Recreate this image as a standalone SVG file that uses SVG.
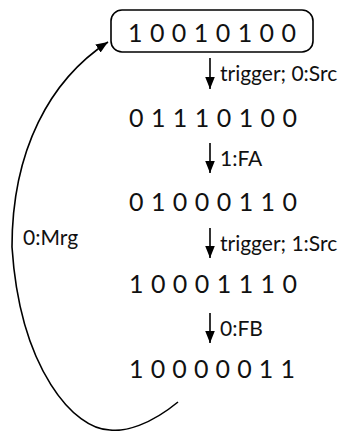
<svg xmlns="http://www.w3.org/2000/svg" width="355" height="431" viewBox="0 0 355 431">
<style>
.d{font-family:Lato,"Open Sans","Liberation Sans",sans-serif;font-size:25px;fill:#111}
.l{font-family:Lato,"Open Sans","Liberation Sans",sans-serif;font-size:21px;fill:#111}
.c{fill:none;stroke:#000;stroke-width:1.6}
</style>
<defs>
<marker id="ah" viewBox="0 0 10 10" refX="10" refY="5" markerWidth="12" markerHeight="12" markerUnits="userSpaceOnUse" orient="auto">
<path d="M0,1 L10,5 L0,9 Z" fill="#000"/>
</marker>
</defs>
<g id="s0">
<rect x="111" y="10" width="202" height="42" rx="11" fill="none" stroke="#000" stroke-width="1.6"/>
<text class="d" x="128" y="42" textLength="168">1 0 0 1 0 1 0 0</text>
</g>
<g id="s1"><text class="d" x="129" y="127" textLength="168">0 1 1 1 0 1 0 0</text></g>
<g id="s2"><text class="d" x="129" y="211" textLength="168">0 1 0 0 0 1 1 0</text></g>
<g id="s3"><text class="d" x="129" y="293" textLength="168">1 0 0 0 1 1 1 0</text></g>
<g id="s4"><text class="d" x="129" y="378" textLength="166">1 0 0 0 0 0 1 1</text></g>
<g id="connectors">
<line class="c" x1="210" y1="58" x2="210" y2="89" marker-end="url(#ah)"/>
<text class="l" x="220" y="81">trigger; 0:Src</text>
<line class="c" x1="210" y1="143" x2="210" y2="173" marker-end="url(#ah)"/>
<text class="l" x="220" y="166">1:FA</text>
<line class="c" x1="210" y1="228" x2="210" y2="258" marker-end="url(#ah)"/>
<text class="l" x="220" y="251">trigger; 1:Src</text>
<line class="c" x1="210" y1="313" x2="210" y2="343" marker-end="url(#ah)"/>
<text class="l" x="220" y="336">0:FB</text>
<path class="c" d="M178,402 C150,425 125,432 110,430 C75,430 20,370 12,247 C12,150 50,80 108,42" marker-end="url(#ah)"/>
<text class="l" x="23" y="245">0:Mrg</text>
</g>
</svg>
